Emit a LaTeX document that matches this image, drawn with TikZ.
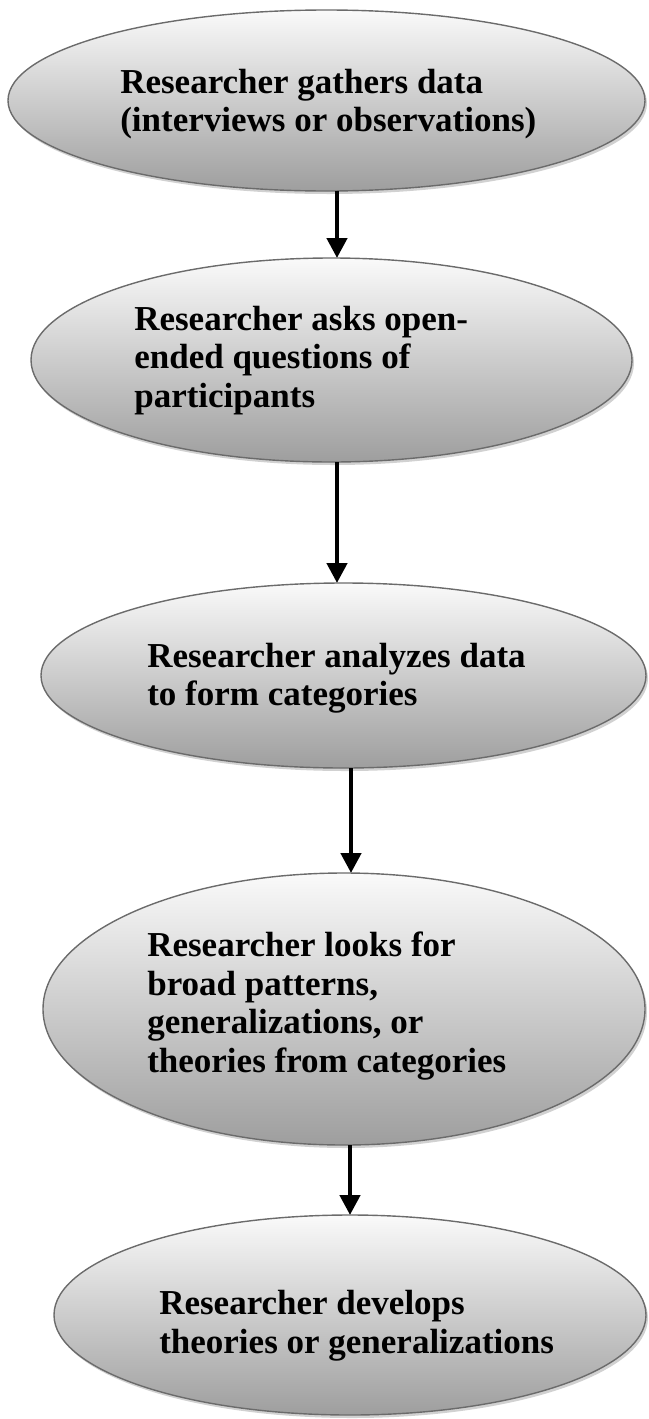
\documentclass[tikz,border=0pt]{standalone}
\usepackage{fontspec}
\setmainfont{Liberation Serif}
\usetikzlibrary{positioning}
\usetikzlibrary{shapes.geometric}
\usetikzlibrary{shadows}
\usetikzlibrary{arrows.meta}

\begin{document}
\begin{tikzpicture}[
    x = 1pt,
    y = -1pt,
    semithick,
    ]

    \tikzstyle{stage}=[
    ellipse,
    draw = black!58,
    line width = 1.4pt,
    top color = black!2,
    bottom color = black!38,
    inner sep = 0pt,
    outer sep = 0pt,
    drop shadow = {shadow xshift=2pt, shadow yshift=-3pt, fill=black!30, opacity=0.6},
    ]

    \tikzstyle{words}=[
    anchor = north west,
    align = left,
    inner sep = 0pt,
    font = \bfseries\fontsize{35}{38.4}\selectfont,
    ]

    \tikzstyle{flow}=[
    -{Triangle[width=20pt, length=20pt]},
    line width = 4.5pt,
    ]

    \useasboundingbox (0,0) rectangle (648,1419);

    \node[stage, minimum width=637pt, minimum height=181pt] (e1) at (326.5,100.5) {};
    \node[stage, minimum width=601pt, minimum height=204pt] (e2) at (331.5,360) {};
    \node[stage, minimum width=605pt, minimum height=185pt] (e3) at (343.5,675.5) {};
    \node[stage, minimum width=602pt, minimum height=272pt] (e4) at (344,1009) {};
    \node[stage, minimum width=592pt, minimum height=200pt] (e5) at (350,1315) {};

    \node[words] (t1) at (120,68.5) {Researcher gathers data\\(interviews or observations)};
    \node[words] (t2) at (134,306) {Researcher asks open-\\ended questions of\\participants};
    \node[words] (t3) at (147,643) {Researcher analyzes data\\to form categories};
    \node[words] (t4) at (147,932) {Researcher looks for\\broad patterns,\\generalizations, or\\theories from categories};
    \node[words] (t5) at (159,1290) {Researcher develops\\theories or generalizations};

    \draw[flow] ([xshift=10.5pt]e1.south) -- ([xshift=5.5pt]e2.north);
    \draw[flow] ([xshift=5.5pt]e2.south) -- ([xshift=-6.5pt]e3.north);
    \draw[flow] ([xshift=7.5pt]e3.south) -- ([xshift=7pt]e4.north);
    \draw[flow] ([xshift=6pt]e4.south) -- (e5.north);
  \end{tikzpicture}
\end{document}
